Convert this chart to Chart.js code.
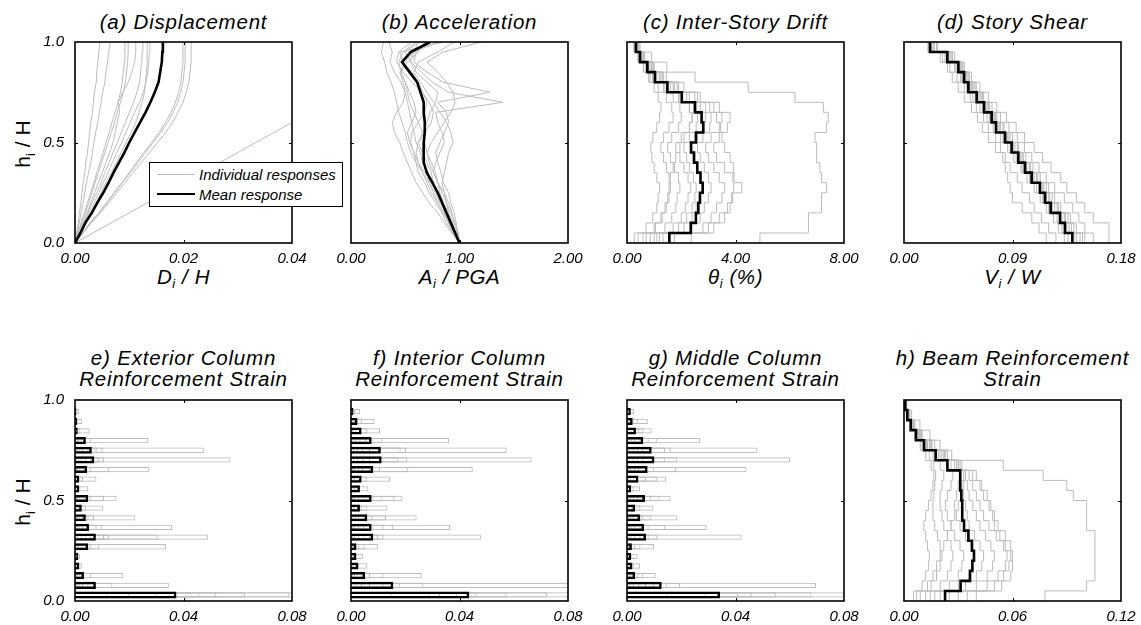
<!DOCTYPE html>
<html lang="en">
<head>
<meta charset="UTF-8">
<title>Response profiles</title>
<script src="https://cdn.jsdelivr.net/npm/chart.js"></script>
<style>
  body { margin: 0; width: 1141px; height: 625px; background: #fff; position: relative; overflow: hidden;
         font-family: 'Liberation Sans', Arial, sans-serif; color: #000; }
  canvas { position: absolute; }
  .title { position: absolute; text-align: center; font-style: italic; font-size: 20.5px; line-height: 21px;
           letter-spacing: 0.8px; white-space: nowrap; }
  .xlab { position: absolute; text-align: center; font-style: italic; font-size: 20.5px; line-height: 23px;
          letter-spacing: 0.6px; white-space: nowrap; }
  .ylab { position: absolute; font-size: 21px; line-height: 23.5px; white-space: nowrap;
          transform: translate(-50%, -50%) rotate(-90deg); }
  .sb { font-size: 0.62em; position: relative; top: 0.35em; }
  .lg { position: absolute; z-index: 5; }
  #legend { left: 149px; top: 162px; width: 194px; height: 45px; box-sizing: border-box;
            border: 1.5px solid #000; background: #fff; }
  .lgtext { font-style: italic; font-size: 15px; line-height: 17px; white-space: nowrap; }
</style>
</head>
<body>

<!-- panel titles -->
<div class="title" style="left:75px; top:10.7px; width:217px;">(a) Displacement</div>
<div class="title" style="left:351px; top:10.7px; width:217px;">(b) Acceleration</div>
<div class="title" style="left:627px; top:10.7px; width:217px;">(c) Inter-Story Drift</div>
<div class="title" style="left:904px; top:10.7px; width:217px;">(d) Story Shear</div>
<div class="title" style="left:45px; top:347.4px; width:277px;">e) Exterior Column<br>Reinforcement Strain</div>
<div class="title" style="left:321px; top:347.4px; width:277px;">f) Interior Column<br>Reinforcement Strain</div>
<div class="title" style="left:597px; top:347.4px; width:277px;">g) Middle Column<br>Reinforcement Strain</div>
<div class="title" style="left:874px; top:347.4px; width:277px;">h) Beam Reinforcement<br>Strain</div>

<!-- axis titles -->
<div class="xlab" style="left:75px; top:265px; width:217px;">D<span class="sb">i</span> / H</div>
<div class="xlab" style="left:351px; top:265px; width:217px;">A<span class="sb">i</span> / PGA</div>
<div class="xlab" style="left:627px; top:265px; width:217px;">θ<span class="sb">i</span> (%)</div>
<div class="xlab" style="left:904px; top:265px; width:217px;">V<span class="sb">i</span> / W</div>
<div class="ylab" style="left:24px; top:144px;">h<span class="sb">i</span> / H</div>
<div class="ylab" style="left:24px; top:502px;">h<span class="sb">i</span> / H</div>

<!-- legend of panel (a) -->
<div id="legend" class="lg"></div>
<div class="lg" style="left:157px; top:174px; width:38px; border-top:1px solid #bcbcbc;"></div>
<div class="lg" style="left:157px; top:193px; width:38px; border-top:2.5px solid #000;"></div>
<div class="lg lgtext" style="left:199px; top:166px;">Individual responses</div>
<div class="lg lgtext" style="left:199px; top:186px;">Mean response</div>

<script>
// heights (h/H) of the floors, and of the strain bars
const floorLevels = [0, 0.05, 0.1, 0.15, 0.2, 0.25, 0.3, 0.35, 0.4, 0.45, 0.5, 0.55, 0.6, 0.65, 0.7, 0.75, 0.8, 0.85, 0.9, 0.95, 1];
const barLevels = [0.030, 0.078, 0.126, 0.174, 0.222, 0.270, 0.318, 0.366, 0.414, 0.462, 0.510, 0.558, 0.606, 0.654, 0.702, 0.750, 0.798, 0.846, 0.894, 0.942];

// tick values
const heightTicks = [0, 0.5, 1];
const dispTicks = [0, 0.02, 0.04];
const accTicks = [0, 1, 2];
const driftTicks = [0, 4, 8];
const shearTicks = [0, 0.09, 0.18];
const colStrainTicks = [0, 0.04, 0.08];
const beamStrainTicks = [0, 0.06, 0.12];

// (a) displacement D/H at floor levels
const dispRuns = [
  [0,.0003,.0006,.0008,.0011,.0013,.0015,.0018,.0020,.0023,.0025,.0027,.0029,.0032,.0034,.0036,.0039,.0040,.0042,.0044,.0046],
  [0,.0004,.0008,.0011,.0015,.0018,.0021,.0025,.0029,.0032,.0035,.0038,.0042,.0045,.0048,.0051,.0055,.0057,.0060,.0062,.0065],
  [0,.0006,.0011,.0017,.0023,.0029,.0035,.0040,.0046,.0052,.0057,.0063,.0068,.0074,.0079,.0084,.0087,.0089,.0091,.0092,.0092],
  [0,.0006,.0012,.0019,.0025,.0031,.0037,.0043,.0049,.0055,.0061,.0067,.0073,.0078,.0084,.0089,.0093,.0095,.0097,.0098,.0098],
  [0,.0008,.0015,.0022,.0029,.0036,.0043,.0050,.0057,.0064,.0070,.0074,.0078,.0082,.0080,.0088,.0098,.0105,.0110,.0112,.0112],
  [0,.0008,.0015,.0024,.0031,.0040,.0048,.0055,.0063,.0070,.0078,.0085,.0093,.0100,.0108,.0114,.0119,.0121,.0123,.0124,.0125],
  [0,.0009,.0019,.0029,.0039,.0048,.0057,.0067,.0076,.0085,.0094,.0104,.0112,.0118,.0124,.0128,.0130,.0132,.0133,.0133,.0133],
  [0,.0008,.0017,.0026,.0035,.0044,.0052,.0061,.0069,.0077,.0086,.0094,.0102,.0110,.0119,.0126,.0131,.0134,.0136,.0137,.0138],
  [0,.0014,.0028,.0044,.0058,.0072,.0086,.0100,.0113,.0127,.0141,.0155,.0167,.0177,.0185,.0191,.0195,.0197,.0199,.0199,.0199],
  [0,.0014,.0028,.0045,.0059,.0073,.0087,.0102,.0116,.0130,.0144,.0158,.0171,.0181,.0189,.0195,.0199,.0201,.0203,.0203,.0203],
  [0,.0015,.0030,.0047,.0062,.0077,.0092,.0107,.0122,.0137,.0152,.0167,.0180,.0190,.0199,.0205,.0210,.0212,.0214,.0214,.0214],
  [0,.0033,.0067,.0100,.0133,.0167,.0200,.0233,.0267,.0300,.0333,.0367,.0400,.0433,.0467,.0500,.0533,.0567,.0600,.0633,.0667]
];
const dispMean = [0,.0010,.0019,.0031,.0041,.0052,.0062,.0071,.0081,.0091,.0100,.0110,.0120,.0130,.0139,.0147,.0154,.0157,.0160,.0161,.0162];

// (b) acceleration A/PGA at floor levels
const accRuns = [
  [1,.97,.93,.88,.82,.78,.72,.66,.60,.55,.52,.50,.47,.44,.42,.40,.37,.33,.31,.28,.30],
  [1,.95,.90,.85,.80,.74,.70,.66,.62,.60,.62,.66,.70,.73,.78,.80,.70,.60,.55,.58,.62],
  [1,.98,.97,.95,.92,.90,.85,.83,.80,.78,.82,.86,.90,.88,.80,1.28,.85,.70,.58,.60,.70],
  [1,.96,.92,.90,.85,.82,.80,.76,.78,.82,.86,.84,.80,.78,1.40,.90,.75,.65,.55,.50,.62],
  [1,.93,.86,.80,.72,.66,.60,.56,.52,.48,.45,.40,.38,.42,.48,.50,.46,.40,.36,.38,.35],
  [1,.98,.95,.93,.90,.86,.80,.76,.72,.70,.74,.80,.86,.92,.96,.94,.88,.80,.70,.85,1.20],
  [1,.96,.94,.90,.88,.84,.80,.78,.74,.70,.68,.66,.62,.58,.54,.52,.50,.46,.44,.48,.60],
  [1,.94,.88,.84,.78,.72,.68,.62,.60,.58,.55,.56,.62,.68,.70,.66,.56,.48,.42,.44,.56],
  [1,.99,.96,.92,.88,.86,.84,.86,.88,.90,.94,.92,.88,.82,.76,.70,.64,.58,.62,.80,.95],
  [1,.94,.90,.86,.84,.80,.74,.68,.62,.58,.54,.52,.56,.60,.58,.54,.50,.46,.52,.62,.68],
  [1,.97,.92,.86,.80,.76,.72,.70,.66,.64,.60,.58,.56,.54,.52,.50,.48,.45,.50,.58,.80],
  [1,.95,.92,.88,.82,.78,.76,.74,.70,.66,.62,.68,.74,.76,.72,.66,.62,.56,.48,.45,.85]
];
const accMean = [1.00,.96,.92,.88,.84,.80,.75,.70,.67,.67,.67,.68,.68,.67,.67,.64,.61,.54,.47,.55,.73];

// (c) inter-story drift (%) per story, bottom to top
const driftRuns = [
  [4.90,6.69,6.69,7.17,7.17,7.36,7.17,7.11,6.99,6.99,6.93,7.36,7.42,7.24,6.19,4.47,2.51,1.47,.91,.48],
  [.27,.70,.95,1.10,1.15,1.20,1.10,1.00,.92,.88,.95,1.10,1.20,1.25,1.15,1.00,.80,.60,.40,.25],
  [.41,1.05,1.30,1.45,1.55,1.60,1.55,1.45,1.35,1.25,1.35,1.55,1.70,1.65,1.45,1.15,.85,.62,.42,.28],
  [.71,1.40,1.65,1.80,1.85,1.95,1.90,1.75,1.60,1.50,1.65,1.90,2.00,1.95,1.70,1.35,.95,.70,.45,.30],
  [.86,1.70,2.00,2.15,2.25,2.35,2.25,2.10,1.95,1.80,2.00,2.30,2.40,2.30,1.95,1.50,1.05,.78,.50,.32],
  [1.00,1.90,2.20,2.40,2.50,2.55,2.45,2.30,2.20,2.10,2.30,2.55,2.60,2.45,2.05,1.60,1.10,.80,.52,.35],
  [1.10,2.10,2.40,2.55,2.70,2.80,2.70,2.60,2.50,2.40,2.60,2.85,2.90,2.70,2.20,1.70,1.20,.85,.55,.36],
  [1.20,2.40,2.70,2.85,3.00,3.10,3.00,2.85,2.70,2.60,2.80,3.05,3.10,2.90,2.30,1.75,1.25,.90,.58,.38],
  [1.33,2.80,3.10,3.30,3.50,3.60,3.40,3.20,3.00,2.90,3.10,3.40,3.50,3.20,2.50,1.85,1.30,.95,.60,.40],
  [1.75,3.00,3.40,3.70,3.90,4.23,3.95,3.60,3.30,3.20,3.40,3.70,3.80,3.40,2.60,1.90,1.35,.98,.62,.42],
  [2.37,3.20,3.60,3.80,3.85,3.93,3.90,3.93,3.80,3.60,3.50,3.45,3.30,3.05,2.70,2.10,1.45,1.00,.65,.44],
  [.59,1.00,1.25,1.40,1.50,1.55,1.60,1.70,1.80,1.95,2.10,2.30,2.40,2.30,1.90,1.40,.95,.70,.46,.30]
];
const driftMean = [1.56,2.35,2.54,2.63,2.69,2.79,2.71,2.59,2.47,2.36,2.54,2.81,2.75,2.51,2.02,1.49,1.03,.75,.48,.33];

// (d) story shear V/W per story, bottom to top
const shearRuns = [
  [.170,.170,.157,.150,.143,.135,.130,.122,.115,.108,.100,.093,.085,.077,.070,.063,.056,.050,.042,.028],
  [.157,.150,.145,.140,.133,.125,.118,.112,.106,.100,.094,.087,.080,.073,.066,.060,.054,.048,.040,.027],
  [.118,.112,.106,.098,.090,.088,.086,.084,.082,.076,.070,.065,.061,.056,.050,.045,.040,.036,.030,.020],
  [.126,.120,.114,.108,.104,.098,.094,.088,.084,.080,.076,.070,.066,.060,.055,.050,.044,.038,.032,.022],
  [.136,.131,.127,.120,.115,.110,.104,.098,.093,.088,.082,.076,.071,.065,.059,.053,.048,.043,.035,.021],
  [.141,.135,.131,.123,.118,.113,.107,.101,.096,.090,.085,.078,.073,.067,.061,.055,.050,.045,.036,.022],
  [.143,.137,.133,.125,.120,.115,.108,.102,.097,.091,.086,.079,.074,.068,.062,.056,.051,.046,.037,.023],
  [.146,.139,.134,.127,.121,.116,.110,.104,.098,.092,.087,.080,.075,.069,.063,.057,.052,.047,.038,.024],
  [.148,.141,.136,.128,.123,.118,.111,.105,.099,.094,.088,.082,.076,.070,.064,.058,.053,.048,.039,.025],
  [.150,.143,.138,.130,.125,.120,.113,.107,.101,.095,.090,.083,.077,.071,.065,.059,.054,.049,.040,.025],
  [.133,.128,.124,.118,.113,.108,.102,.097,.091,.086,.080,.074,.069,.063,.057,.052,.047,.042,.034,.020],
  [.139,.133,.129,.121,.116,.112,.105,.099,.094,.089,.083,.077,.072,.066,.060,.054,.049,.044,.036,.021]
];
const shearMean = [.1396,.1335,.1294,.1217,.1170,.1128,.1059,.1004,.0948,.0893,.0838,.0763,.0727,.0664,.0603,.0534,.0498,.0451,.0359,.0216];

// (e) exterior column reinforcement strain, bar by bar from the base
const extRuns = [
  [.0950,.0346,.0178,.0025,.0018,.0336,.0490,.0358,.0222,.0103,.0153,.0049,.0079,.0274,.0573,.0475,.0270,.0054,.0027,.0015],
  [.0790,.0138,.0060,.0012,.0008,.0090,.0305,.0101,.0070,.0040,.0107,.0020,.0030,.0126,.0107,.0102,.0060,.0020,.0010,.0006],
  [.0626,.0077,.0035,.0008,.0005,.0060,.0126,.0080,.0050,.0025,.0060,.0015,.0020,.0060,.0089,.0080,.0040,.0012,.0006,.0004],
  [.0521,.0050,.0020,.0005,.0004,.0040,.0107,.0050,.0030,.0015,.0035,.0010,.0012,.0035,.0060,.0050,.0025,.0008,.0004,.0002],
  [.0459,.0030,.0012,.0004,.0003,.0025,.0060,.0030,.0020,.0010,.0020,.0006,.0008,.0020,.0040,.0030,.0015,.0005,.0003,.0002],
  [.0300,.0020,.0008,.0003,.0002,.0015,.0040,.0020,.0012,.0006,.0012,.0004,.0005,.0012,.0025,.0020,.0010,.0003,.0002,.0001],
  [.0200,.0012,.0005,.0002,.0001,.0010,.0025,.0012,.0008,.0004,.0008,.0002,.0003,.0008,.0015,.0012,.0006,.0002,.0001,.0001],
  [.0120,.0006,.0003,.0001,.0001,.0005,.0012,.0006,.0004,.0002,.0004,.0001,.0002,.0004,.0008,.0006,.0003,.0001,.0001,0]
];
const extMean = [.0374,.0077,.0033,.0016,.0012,.0049,.0077,.0052,.0040,.0025,.0049,.0015,.0015,.0045,.0071,.0062,.0040,.0010,.0008,.0005];

// (f) interior column reinforcement strain
const intRuns = [
  [.1000,.1000,.0261,.0060,.0044,.0101,.0479,.0365,.0242,.0134,.0190,.0064,.0144,.0449,.0666,.0574,.0362,.0107,.0087,.0034],
  [.0722,.1000,.0120,.0030,.0020,.0050,.0120,.0156,.0129,.0060,.0161,.0030,.0060,.0211,.0208,.0203,.0116,.0060,.0040,.0015],
  [.0574,.0267,.0070,.0018,.0012,.0030,.0100,.0120,.0080,.0040,.0116,.0020,.0040,.0107,.0175,.0183,.0080,.0035,.0025,.0010],
  [.0463,.0180,.0040,.0012,.0008,.0020,.0070,.0080,.0050,.0025,.0080,.0015,.0025,.0070,.0110,.0110,.0055,.0020,.0015,.0006],
  [.0390,.0120,.0025,.0008,.0005,.0012,.0050,.0050,.0030,.0015,.0050,.0010,.0015,.0045,.0070,.0070,.0035,.0012,.0010,.0004],
  [.0328,.0070,.0015,.0005,.0003,.0008,.0030,.0030,.0020,.0010,.0030,.0006,.0010,.0030,.0045,.0045,.0020,.0008,.0006,.0002],
  [.0290,.0040,.0008,.0003,.0002,.0004,.0015,.0015,.0010,.0005,.0015,.0003,.0005,.0015,.0025,.0025,.0010,.0004,.0003,.0001],
  [.0150,.0020,.0004,.0001,.0001,.0002,.0008,.0008,.0005,.0002,.0008,.0001,.0002,.0008,.0012,.0012,.0005,.0002,.0001,.0001]
];
const intMean = [.0436,.0156,.0052,.0027,.0020,.0020,.0082,.0076,.0060,.0033,.0076,.0033,.0039,.0082,.0113,.0110,.0076,.0039,.0024,.0009];

// (g) middle column reinforcement strain
const midRuns = [
  [.0900,.0697,.0106,.0048,.0039,.0100,.0423,.0294,.0186,.0097,.0161,.0048,.0144,.0441,.0601,.0481,.0269,.0091,.0077,.0026],
  [.0680,.0196,.0060,.0025,.0020,.0050,.0112,.0141,.0090,.0050,.0120,.0025,.0110,.0181,.0186,.0163,.0110,.0060,.0040,.0015],
  [.0550,.0149,.0040,.0015,.0012,.0030,.0080,.0080,.0060,.0030,.0090,.0015,.0070,.0100,.0141,.0140,.0080,.0045,.0025,.0010],
  [.0460,.0100,.0025,.0010,.0008,.0020,.0050,.0050,.0040,.0020,.0060,.0010,.0040,.0070,.0090,.0090,.0050,.0030,.0015,.0007],
  [.0410,.0070,.0015,.0006,.0005,.0012,.0030,.0030,.0025,.0012,.0040,.0006,.0025,.0045,.0060,.0060,.0030,.0018,.0010,.0004],
  [.0340,.0045,.0010,.0004,.0003,.0008,.0020,.0020,.0015,.0008,.0025,.0004,.0015,.0030,.0040,.0040,.0020,.0010,.0006,.0002],
  [.0290,.0025,.0006,.0002,.0002,.0004,.0012,.0012,.0008,.0004,.0015,.0002,.0008,.0015,.0025,.0025,.0010,.0005,.0003,.0001],
  [.0150,.0012,.0003,.0001,.0001,.0002,.0006,.0006,.0004,.0002,.0008,.0001,.0004,.0008,.0012,.0012,.0005,.0002,.0001,.0001]
];
const midMean = [.0343,.0128,.0030,.0020,.0015,.0018,.0070,.0063,.0049,.0030,.0066,.0015,.0042,.0076,.0101,.0091,.0060,.0033,.0021,.0014];

// (h) beam reinforcement strain per story, bottom to top
const beamRuns = [
  [.0779,.1010,.1056,.1056,.1056,.1056,.1056,.1010,.1010,.1010,.0936,.0900,.0770,.0549,.0264,.0199,.0144,.0088,.0042,.0015],
  [.0053,.0100,.0120,.0135,.0140,.0130,.0120,.0110,.0120,.0135,.0150,.0160,.0165,.0150,.0120,.0090,.0060,.0035,.0020,.0008],
  [.0090,.0150,.0180,.0200,.0210,.0200,.0185,.0170,.0160,.0160,.0165,.0170,.0175,.0165,.0140,.0100,.0065,.0040,.0022,.0009],
  [.0120,.0200,.0240,.0260,.0270,.0260,.0240,.0220,.0210,.0200,.0200,.0210,.0220,.0200,.0160,.0115,.0070,.0042,.0023,.0010],
  [.0145,.0250,.0300,.0320,.0330,.0310,.0280,.0260,.0240,.0230,.0240,.0260,.0270,.0240,.0180,.0125,.0075,.0045,.0025,.0010],
  [.0170,.0300,.0360,.0380,.0390,.0370,.0340,.0310,.0290,.0280,.0290,.0300,.0310,.0260,.0190,.0130,.0080,.0047,.0026,.0011],
  [.0200,.0340,.0400,.0430,.0440,.0420,.0390,.0360,.0350,.0340,.0330,.0320,.0330,.0280,.0200,.0140,.0085,.0050,.0028,.0011],
  [.0250,.0400,.0460,.0490,.0500,.0480,.0450,.0420,.0400,.0380,.0360,.0350,.0340,.0290,.0210,.0145,.0090,.0052,.0029,.0012],
  [.0300,.0460,.0520,.0560,.0570,.0550,.0510,.0470,.0440,.0420,.0400,.0380,.0360,.0300,.0220,.0150,.0095,.0055,.0030,.0012],
  [.0350,.0500,.0550,.0580,.0600,.0590,.0560,.0520,.0500,.0480,.0460,.0430,.0400,.0320,.0230,.0155,.0098,.0057,.0031,.0013],
  [.0400,.0540,.0590,.0600,.0590,.0560,.0530,.0500,.0490,.0470,.0440,.0420,.0380,.0310,.0225,.0150,.0095,.0055,.0030,.0012],
  [.0070,.0130,.0160,.0180,.0200,.0220,.0240,.0260,.0280,.0300,.0320,.0330,.0340,.0300,.0240,.0170,.0100,.0060,.0032,.0013]
];
const beamMean = [.0227,.0313,.0365,.0378,.0387,.0376,.0356,.0332,.0324,.0321,.0317,.0313,.0310,.0240,.0175,.0111,.0066,.0037,.0018,.0007];

// ---------------------------------------------------------------
const GRAY = '#bcbcbc';
const FONT = "'Liberation Sans', Arial, sans-serif";
const PLOT_W = 217, PLOT_H = 201;
const PAD_L = 45, PAD_T = 8, PAD_R = 24, PAD_B = 24;

// profile through the floor levels
function floorPoints(vals) {
    return vals.map((v, i) => ({ x: v, y: floorLevels[i] }));
}
// constant value over each story -> staircase
function stepPoints(vals) {
    const pts = [];
    vals.forEach((v, i) => {
        pts.push({ x: v, y: floorLevels[i] });
        pts.push({ x: v, y: floorLevels[i + 1] });
    });
    return pts;
}
function barPoints(vals) {
    return vals.map((v, i) => ({ x: v, y: barLevels[i] }));
}

// box around the plot + small inward ticks at the middle values
const framePlugin = {
    id: 'frame',
    afterDraw(chart) {
        const ctx = chart.ctx;
        const a = chart.chartArea;
        const xs = chart.scales.x, ys = chart.scales.y;
        ctx.save();
        ctx.strokeStyle = '#000';
        ctx.lineWidth = 1;
        ctx.beginPath();
        xs.ticks.slice(1, -1).forEach(t => {
            const px = Math.round(xs.getPixelForValue(t.value)) + 0.5;
            ctx.moveTo(px, a.bottom); ctx.lineTo(px, a.bottom - 3);
            ctx.moveTo(px, a.top); ctx.lineTo(px, a.top + 3);
        });
        ys.ticks.slice(1, -1).forEach(t => {
            const py = Math.round(ys.getPixelForValue(t.value)) + 0.5;
            ctx.moveTo(a.left, py); ctx.lineTo(a.left + 3, py);
            ctx.moveTo(a.right, py); ctx.lineTo(a.right - 3, py);
        });
        ctx.stroke();
        ctx.lineWidth = 1.6;
        ctx.strokeRect(a.left, a.top, a.right - a.left, a.bottom - a.top);
        ctx.restore();
    }
};

function makePanel(p) {
    const canvas = document.createElement('canvas');
    canvas.width = PLOT_W + PAD_L + PAD_R;
    canvas.height = PLOT_H + PAD_T + PAD_B;
    canvas.style.left = (p.left - PAD_L) + 'px';
    canvas.style.top = (p.top - PAD_T) + 'px';
    document.body.appendChild(canvas);

    const isBar = p.kind === 'bar';
    const toPts = p.kind === 'floor' ? floorPoints : p.kind === 'step' ? stepPoints : barPoints;

    let datasets;
    if (isBar) {
        datasets = [{
            data: toPts(p.mean), borderColor: '#000', borderWidth: 2.5,
            backgroundColor: 'rgba(0,0,0,0)', grouped: false,
            categoryPercentage: 1, barPercentage: 0.74, borderSkipped: 'start', clip: 0
        }].concat(p.runs.map(r => ({
            data: toPts(r), borderColor: GRAY, borderWidth: 1,
            backgroundColor: 'rgba(0,0,0,0)', grouped: false,
            categoryPercentage: 1, barPercentage: 0.55, borderSkipped: 'start', clip: 0
        })));
    } else {
        datasets = [{
            data: toPts(p.mean), showLine: true, borderColor: '#000', borderWidth: 2.6,
            pointRadius: 0, pointHoverRadius: 0, tension: 0, fill: false, clip: 0
        }].concat(p.runs.map(r => ({
            data: toPts(r), showLine: true, borderColor: GRAY, borderWidth: 1,
            pointRadius: 0, pointHoverRadius: 0, tension: 0, fill: false, clip: 0
        })));
    }

    const tickFont = { family: FONT, size: 15, style: 'italic' };

    new Chart(canvas.getContext('2d'), {
        type: isBar ? 'bar' : 'scatter',
        data: { datasets: datasets },
        options: {
            indexAxis: isBar ? 'y' : 'x',
            responsive: false,
            animation: false,
            devicePixelRatio: 1,
            events: [],
            layout: { padding: { left: 0, top: PAD_T, right: PAD_R, bottom: 0 } },
            plugins: { legend: { display: false }, tooltip: { enabled: false } },
            scales: {
                x: {
                    type: 'linear', position: 'bottom',
                    min: p.ticks[0], max: p.ticks[p.ticks.length - 1],
                    grid: { display: false }, border: { display: false },
                    afterBuildTicks: s => { s.ticks = p.ticks.map(v => ({ value: v })); },
                    ticks: { font: tickFont, color: '#000', padding: -1, maxRotation: 0, autoSkip: false,
                             callback: v => Number(v).toFixed(2) },
                    afterFit: s => { s.height = PAD_B; s.paddingLeft = 0; s.paddingRight = 0; }
                },
                y: {
                    type: 'linear', position: 'left', offset: false,
                    min: 0, max: 1,
                    grid: { display: false }, border: { display: false },
                    afterBuildTicks: s => { s.ticks = heightTicks.map(v => ({ value: v })); },
                    ticks: { display: p.yLabels, font: tickFont, color: '#000', padding: 3,
                             callback: v => Number(v).toFixed(1) },
                    afterFit: s => { s.width = PAD_L; s.paddingTop = 0; s.paddingBottom = 0; }
                }
            }
        },
        plugins: [framePlugin]
    });
}

const colLeft = [75, 351, 627, 904];
const topRow = 42, bottomRow = 400;

makePanel({ left: colLeft[0], top: topRow, kind: 'floor', runs: dispRuns, mean: dispMean, ticks: dispTicks, yLabels: true });
makePanel({ left: colLeft[1], top: topRow, kind: 'floor', runs: accRuns, mean: accMean, ticks: accTicks, yLabels: false });
makePanel({ left: colLeft[2], top: topRow, kind: 'step', runs: driftRuns, mean: driftMean, ticks: driftTicks, yLabels: false });
makePanel({ left: colLeft[3], top: topRow, kind: 'step', runs: shearRuns, mean: shearMean, ticks: shearTicks, yLabels: false });
makePanel({ left: colLeft[0], top: bottomRow, kind: 'bar', runs: extRuns, mean: extMean, ticks: colStrainTicks, yLabels: true });
makePanel({ left: colLeft[1], top: bottomRow, kind: 'bar', runs: intRuns, mean: intMean, ticks: colStrainTicks, yLabels: false });
makePanel({ left: colLeft[2], top: bottomRow, kind: 'bar', runs: midRuns, mean: midMean, ticks: colStrainTicks, yLabels: false });
makePanel({ left: colLeft[3], top: bottomRow, kind: 'step', runs: beamRuns, mean: beamMean, ticks: beamStrainTicks, yLabels: false });
</script>
</body>
</html>
